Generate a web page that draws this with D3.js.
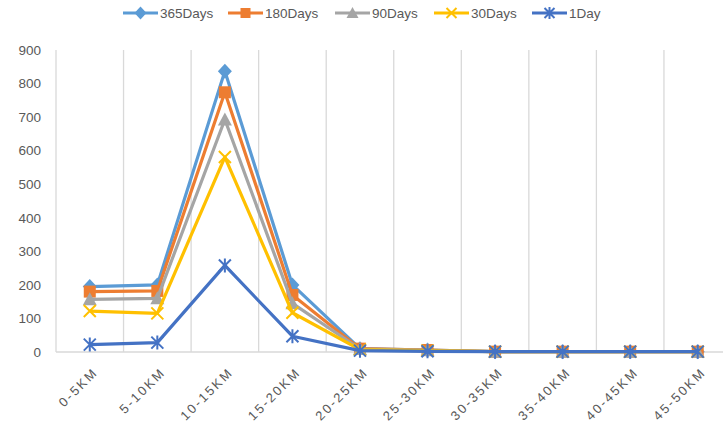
<!DOCTYPE html>
<html>
<head>
<meta charset="utf-8">
<script src="https://cdn.jsdelivr.net/npm/d3@7"></script>
<style>
  html, body { margin: 0; padding: 0; background: #fff; }
  svg { display: block; font-family: "Liberation Sans", Arial, sans-serif; }
</style>
</head>
<body>
<svg id="chart" width="723" height="427"></svg>
<script>
// Distance bands on the x axis
const categories = ["0-5KM", "5-10KM", "10-15KM", "15-20KM", "20-25KM",
                    "25-30KM", "30-35KM", "35-40KM", "40-45KM", "45-50KM"];

// Counts per distance band for each time window
const days365 = [195, 200, 837, 200, 10, 6, 1, 1, 1, 1];
const days180 = [180, 182, 774, 170, 10, 6, 1, 1, 1, 1];
const days90  = [157, 160, 693, 145, 9, 5, 1, 1, 1, 1];
const days30  = [122, 115, 581, 117, 7, 4, 1, 1, 1, 1];
const day1    = [22, 28, 258, 47, 4, 2, 1, 1, 1, 1];

const yTicks = [0, 100, 200, 300, 400, 500, 600, 700, 800, 900];

const series = [
  { name: "365Days", values: days365, color: "#5B9BD5", marker: "diamond" },
  { name: "180Days", values: days180, color: "#ED7D31", marker: "square" },
  { name: "90Days",  values: days90,  color: "#A5A5A5", marker: "triangle" },
  { name: "30Days",  values: days30,  color: "#FFC000", marker: "x" },
  { name: "1Day",    values: day1,    color: "#4472C4", marker: "star" }
];

const svg = d3.select("#chart");
const plot = { left: 56, right: 731.5, top: 50, bottom: 352 };

const x = d3.scaleBand().domain(categories).range([plot.left, plot.right]);
const y = d3.scaleLinear().domain([0, 900]).range([plot.bottom, plot.top]);

// Vertical category gridlines
const gridX = categories.map(c => x(c)).concat([plot.right]);
svg.append("g").selectAll("line").data(gridX).join("line")
  .attr("x1", d => d).attr("x2", d => d)
  .attr("y1", plot.top).attr("y2", plot.bottom)
  .attr("stroke", "#d9d9d9").attr("stroke-width", 1.3);

// Category axis baseline
svg.append("line")
  .attr("x1", plot.left).attr("x2", plot.right)
  .attr("y1", plot.bottom).attr("y2", plot.bottom)
  .attr("stroke", "#d9d9d9").attr("stroke-width", 1.3);

// Value axis labels
const yAxis = d3.axisLeft(y).tickValues(yTicks).tickSize(0).tickPadding(15);
const gy = svg.append("g").attr("transform", `translate(${plot.left},0)`).call(yAxis);
gy.select(".domain").remove();
gy.selectAll("text").attr("font-size", 13.5).attr("fill", "#595959")
  .attr("font-family", "Liberation Sans, Arial, sans-serif");

// Rotated category labels
const xAxis = d3.axisBottom(x).tickSize(0).tickPadding(0);
const gx = svg.append("g").attr("transform", `translate(0,${plot.bottom})`).call(xAxis);
gx.select(".domain").remove();
gx.selectAll("text")
  .attr("font-size", 13).attr("fill", "#595959")
  .attr("font-family", "Liberation Sans, Arial, sans-serif")
  .attr("letter-spacing", "2.2px")
  .attr("text-anchor", "end")
  .attr("dy", 0)
  .attr("transform", "translate(9,21) rotate(-45)");

// Marker drawing
function drawMarker(g, type, color, s) {
  const h = s / 2;
  if (type === "diamond") {
    g.append("path").attr("d", `M0,${-h - 1.5}L${h + 1},0L0,${h + 1.5}L${-h - 1},0Z`).attr("fill", color);
  } else if (type === "square") {
    g.append("rect").attr("x", -h).attr("y", -h).attr("width", s).attr("height", s).attr("fill", color);
  } else if (type === "triangle") {
    g.append("path").attr("d", `M0,${-h - 1}L${h + 1},${h}L${-h - 1},${h}Z`).attr("fill", color);
  } else if (type === "x") {
    g.append("path").attr("d", `M${-h},${-h}L${h},${h}M${h},${-h}L${-h},${h}`)
      .attr("stroke", color).attr("stroke-width", 2);
  } else if (type === "star") {
    g.append("path").attr("d", `M${-h},${-h}L${h},${h}M${h},${-h}L${-h},${h}M0,${-h - 1}L0,${h + 1}`)
      .attr("stroke", color).attr("stroke-width", 2);
  }
}

const line = d3.line()
  .x((d, i) => x(categories[i]) + x.bandwidth() / 2)
  .y(d => y(d));

series.forEach(s => {
  const g = svg.append("g");
  g.append("path").datum(s.values)
    .attr("d", line)
    .attr("fill", "none")
    .attr("stroke", s.color)
    .attr("stroke-width", 3.2)
    .attr("stroke-linejoin", "round");
  s.values.forEach((v, i) => {
    const m = g.append("g").attr("transform",
      `translate(${x(categories[i]) + x.bandwidth() / 2},${y(v)})`);
    drawMarker(m, s.marker, s.color, 12);
  });
});

// Legend across the top
const legendX = [123, 228, 335, 434, 532];
const legend = svg.append("g");
series.forEach((s, i) => {
  const g = legend.append("g").attr("transform", `translate(${legendX[i]},13)`);
  g.append("line").attr("x1", 0).attr("x2", 35).attr("y1", 0).attr("y2", 0)
    .attr("stroke", s.color).attr("stroke-width", 3.2);
  const m = g.append("g").attr("transform", "translate(17.5,0)");
  drawMarker(m, s.marker, s.color, 10);
  g.append("text").attr("x", 37).attr("y", 5)
    .attr("font-size", 13.5).attr("fill", "#595959")
    .attr("font-family", "Liberation Sans, Arial, sans-serif")
    .text(s.name);
});
</script>
</body>
</html>
